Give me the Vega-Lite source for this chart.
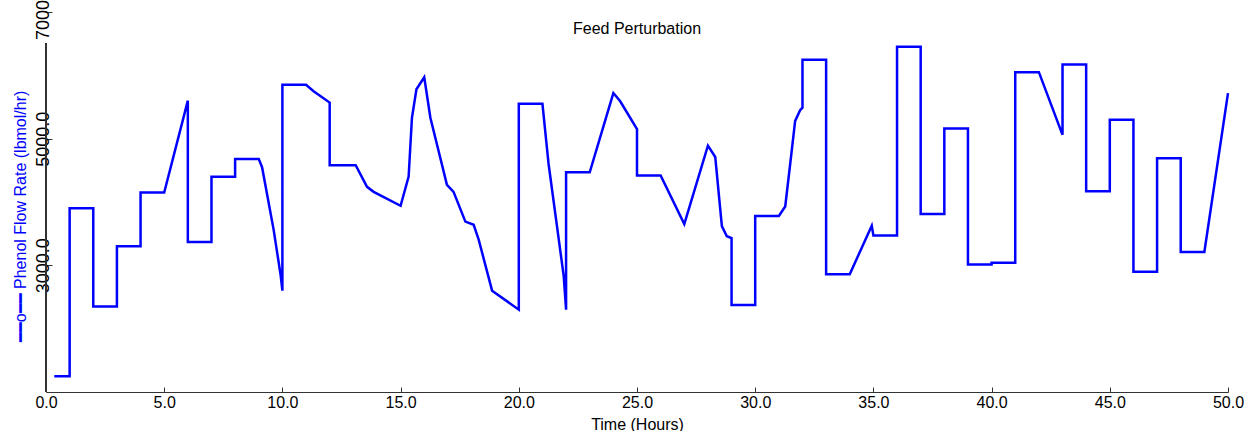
{
  "$schema": "https://vega.github.io/schema/vega-lite/v6.json",
  "width": 1182,
  "height": 380,
  "autosize": {"type": "none"},
  "padding": {"left": 46, "top": 12, "right": 16, "bottom": 39},
  "background": "white",
  "config": {"view": {"stroke": null}, "font": "Liberation Sans"},
  "title": {"text": "Feed Perturbation", "fontSize": 16, "font": "Liberation Sans", "fontWeight": "normal", "color": "#000000", "anchor": "middle", "offset": -66, "baseline": "alphabetic"},
  "data": {"values": [
    {"i": 0, "t": 0.35, "v": 1250},
    {"i": 1, "t": 1, "v": 1250},
    {"i": 2, "t": 1, "v": 3900},
    {"i": 3, "t": 2, "v": 3900},
    {"i": 4, "t": 2, "v": 2350},
    {"i": 5, "t": 3, "v": 2350},
    {"i": 6, "t": 3, "v": 3300},
    {"i": 7, "t": 4, "v": 3300},
    {"i": 8, "t": 4, "v": 4150},
    {"i": 9, "t": 5, "v": 4150},
    {"i": 10, "t": 6, "v": 5600},
    {"i": 11, "t": 6, "v": 3370},
    {"i": 12, "t": 7, "v": 3370},
    {"i": 13, "t": 7, "v": 4400},
    {"i": 14, "t": 8, "v": 4400},
    {"i": 15, "t": 8, "v": 4680},
    {"i": 16, "t": 9, "v": 4680},
    {"i": 17, "t": 9.14, "v": 4550},
    {"i": 18, "t": 9.63, "v": 3560},
    {"i": 19, "t": 9.92, "v": 2860},
    {"i": 20, "t": 10, "v": 2600},
    {"i": 21, "t": 10, "v": 5850},
    {"i": 22, "t": 11, "v": 5850},
    {"i": 23, "t": 11.32, "v": 5750},
    {"i": 24, "t": 12, "v": 5570},
    {"i": 25, "t": 12, "v": 4580},
    {"i": 26, "t": 13.1, "v": 4580},
    {"i": 27, "t": 13.58, "v": 4240},
    {"i": 28, "t": 13.86, "v": 4160},
    {"i": 29, "t": 15, "v": 3940},
    {"i": 30, "t": 15.34, "v": 4400},
    {"i": 31, "t": 15.48, "v": 5330},
    {"i": 32, "t": 15.67, "v": 5780},
    {"i": 33, "t": 16, "v": 5970},
    {"i": 34, "t": 16.26, "v": 5330},
    {"i": 35, "t": 16.96, "v": 4270},
    {"i": 36, "t": 17.24, "v": 4160},
    {"i": 37, "t": 17.74, "v": 3690},
    {"i": 38, "t": 18.09, "v": 3640},
    {"i": 39, "t": 18.3, "v": 3410},
    {"i": 40, "t": 18.87, "v": 2600},
    {"i": 41, "t": 20, "v": 2300},
    {"i": 42, "t": 20, "v": 5550},
    {"i": 43, "t": 21, "v": 5550},
    {"i": 44, "t": 21.26, "v": 4600},
    {"i": 45, "t": 21.9, "v": 2830},
    {"i": 46, "t": 22, "v": 2300},
    {"i": 47, "t": 22, "v": 4470},
    {"i": 48, "t": 23, "v": 4470},
    {"i": 49, "t": 24, "v": 5720},
    {"i": 50, "t": 24.29, "v": 5590},
    {"i": 51, "t": 25, "v": 5150},
    {"i": 52, "t": 25, "v": 4420},
    {"i": 53, "t": 26, "v": 4420},
    {"i": 54, "t": 27, "v": 3650},
    {"i": 55, "t": 28, "v": 4890},
    {"i": 56, "t": 28.31, "v": 4710},
    {"i": 57, "t": 28.59, "v": 3620},
    {"i": 58, "t": 28.8, "v": 3460},
    {"i": 59, "t": 29, "v": 3430},
    {"i": 60, "t": 29, "v": 2375},
    {"i": 61, "t": 30, "v": 2375},
    {"i": 62, "t": 30, "v": 3780},
    {"i": 63, "t": 31, "v": 3780},
    {"i": 64, "t": 31.27, "v": 3930},
    {"i": 65, "t": 31.48, "v": 4600},
    {"i": 66, "t": 31.69, "v": 5280},
    {"i": 67, "t": 31.9, "v": 5450},
    {"i": 68, "t": 32, "v": 5490},
    {"i": 69, "t": 32, "v": 6245},
    {"i": 70, "t": 33, "v": 6245},
    {"i": 71, "t": 33, "v": 2860},
    {"i": 72, "t": 34, "v": 2860},
    {"i": 73, "t": 34.93, "v": 3625},
    {"i": 74, "t": 35, "v": 3470},
    {"i": 75, "t": 36, "v": 3470},
    {"i": 76, "t": 36, "v": 6450},
    {"i": 77, "t": 37, "v": 6450},
    {"i": 78, "t": 37, "v": 3810},
    {"i": 79, "t": 38, "v": 3810},
    {"i": 80, "t": 38, "v": 5160},
    {"i": 81, "t": 39, "v": 5160},
    {"i": 82, "t": 39, "v": 3015},
    {"i": 83, "t": 40, "v": 3015},
    {"i": 84, "t": 40, "v": 3040},
    {"i": 85, "t": 41, "v": 3040},
    {"i": 86, "t": 41, "v": 6050},
    {"i": 87, "t": 42, "v": 6050},
    {"i": 88, "t": 43, "v": 5060},
    {"i": 89, "t": 43, "v": 6170},
    {"i": 90, "t": 44, "v": 6170},
    {"i": 91, "t": 44, "v": 4170},
    {"i": 92, "t": 45, "v": 4170},
    {"i": 93, "t": 45, "v": 5300},
    {"i": 94, "t": 46, "v": 5300},
    {"i": 95, "t": 46, "v": 2900},
    {"i": 96, "t": 47, "v": 2900},
    {"i": 97, "t": 47, "v": 4690},
    {"i": 98, "t": 48, "v": 4690},
    {"i": 99, "t": 48, "v": 3210},
    {"i": 100, "t": 49, "v": 3210},
    {"i": 101, "t": 50, "v": 5720}
  ]},
  "layer": [
    {
      "mark": {"type": "line", "color": "#0000FF", "strokeWidth": 2.5, "strokeJoin": "miter", "clip": false},
      "encoding": {
        "x": {"field": "t", "type": "quantitative",
          "scale": {"domain": [0, 50], "nice": false, "zero": false},
          "axis": {"values": [0, 5, 10, 15, 20, 25, 30, 35, 40, 45, 50], "format": ".1f", "grid": false,
            "tickSize": -5, "labelPadding": 7, "labelFontSize": 16, "labelColor": "#000000", "labelFont": "Liberation Sans",
            "domainColor": "#333333", "tickColor": "#333333", "labelFlush": false,
            "title": "Time (Hours)", "titleFontSize": 16, "titleFontWeight": "normal", "titleColor": "#000000", "titleFont": "Liberation Sans",
            "titleY": 37, "titleBaseline": "alphabetic"}},
        "y": {"field": "v", "type": "quantitative",
          "scale": {"domain": [1000, 7000], "nice": false, "zero": false},
          "axis": {"values": [3000, 5000, 7000], "format": ".1f", "grid": false, "domain": false,
            "labelAngle": 270, "labelAlign": "center", "labelBaseline": "alphabetic", "labelPadding": 4,
            "labelFontSize": 18, "labelColor": "#000000", "labelFont": "Liberation Sans", "labelFlush": false,
            "tickSize": -6, "tickColor": "#333333",
            "title": "━━o━━ Phenol Flow Rate (lbmol/hr)", "titleColor": "#0000FF", "titleFontSize": 16, "titleFontWeight": "normal", "titleFont": "Liberation Sans",
            "titleAngle": 270, "titleX": -26, "titleY": 204, "titleBaseline": "middle", "titleAlign": "center"}},
        "order": {"field": "i", "type": "quantitative"}
      }
    },
    {
      "mark": {"type": "rule", "color": "#333333", "strokeWidth": 1},
      "encoding": {
        "x": {"datum": 0, "type": "quantitative"},
        "y": {"datum": 1000, "type": "quantitative"},
        "y2": {"datum": 6500}
      }
    }
  ]
}
